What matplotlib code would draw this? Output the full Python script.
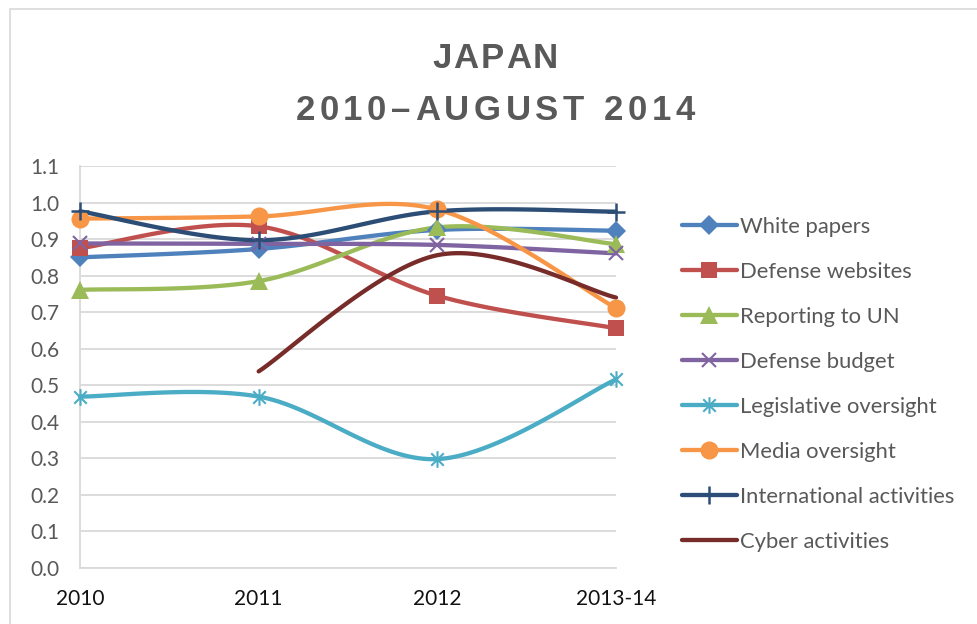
import matplotlib
matplotlib.use("Agg")
import matplotlib.pyplot as plt
from matplotlib.lines import Line2D
from matplotlib.path import Path
from matplotlib.patches import Rectangle
import numpy as np

#%%data
years = ["2010", "2011", "2012", "2013-14"]
white_papers = [0.85, 0.873, 0.925, 0.923]
defense_websites = [0.875, 0.935, 0.745, 0.656]
reporting_un = [0.761, 0.785, 0.932, 0.886]
defense_budget = [0.888, 0.887, 0.884, 0.861]
legislative = [0.469, 0.469, 0.298, 0.516]
media = [0.956, 0.962, 0.981, 0.711]
international = [0.976, 0.897, 0.976, 0.975]
cyber = [np.nan, 0.538, 0.856, 0.74]

labels = ["White papers", "Defense websites", "Reporting to UN", "Defense budget",
          "Legislative oversight", "Media oversight", "International activities",
          "Cyber activities"]

#asterisk marker like excel's "star" (vertical bar + X)
star = Path([(0, -1), (0, 1), (-0.75, -0.75), (0.75, 0.75), (-0.75, 0.75), (0.75, -0.75)],
            [Path.MOVETO, Path.LINETO, Path.MOVETO, Path.LINETO, Path.MOVETO, Path.LINETO])

styles = [
    dict(color="#4F81BD", marker="D", ms=10, mew=0),
    dict(color="#C0504D", marker="s", ms=11, mew=0),
    dict(color="#9BBB59", marker="^", ms=13, mew=0),
    dict(color="#8064A2", marker="x", ms=10, mew=1.5),
    dict(color="#4BACC6", marker=star, ms=12, mew=1.5),
    dict(color="#F79646", marker="o", ms=13, mew=0),
    dict(color="#2C4D75", marker="+", ms=13, mew=1.8),
    dict(color="#772C2A", marker=None, ms=0, mew=0),
]


#%%definitions
def smooth(x, y, n=40):
    """
        - bezier smoothing between points (excel style line), same curve through the points
    """
    x = np.asarray(x, float)
    y = np.asarray(y, float)
    ok = ~np.isnan(y)
    x, y = x[ok], y[ok]
    px = np.concatenate([[x[0]], x, [x[-1]]])
    py = np.concatenate([[y[0]], y, [y[-1]]])
    xs, ys = [], []
    t = np.linspace(0, 1, n)[:, None]
    for i in range(1, len(px) - 2):
        p0 = np.array([px[i], py[i]])
        p3 = np.array([px[i + 1], py[i + 1]])
        c1 = p0 + (np.array([px[i + 1], py[i + 1]]) - np.array([px[i - 1], py[i - 1]])) / 6
        c2 = p3 - (np.array([px[i + 2], py[i + 2]]) - np.array([px[i], py[i]])) / 6
        b = (1 - t)**3 * p0 + 3 * (1 - t)**2 * t * c1 + 3 * (1 - t) * t**2 * c2 + t**3 * p3
        xs.append(b[:, 0])
        ys.append(b[:, 1])
    return np.concatenate(xs), np.concatenate(ys)

def spaced_text(fig, xc, ybase, s, width, **kw):
    """
        - letter-spaced text centred at xc (pixels), stretched to `width` pixels
    """
    r = fig.canvas.get_renderer()
    ws = []
    for ch in s:
        t = fig.text(0, 0, ch if ch != " " else "n", **kw)
        ws.append(t.get_window_extent(r).width * (0.5 if ch == " " else 1))
        t.remove()
    gap = (width - sum(ws)) / (len(s) - 1)
    x = xc - width / 2
    H = fig.bbox.height
    W = fig.bbox.width
    for ch, w in zip(s, ws):
        if ch != " ":
            fig.text(x / W, 1 - ybase / H, ch, ha="left", va="baseline", **kw)
        x += w + gap


#%%main
def main():
    plt.rcParams["font.family"] = ["Lato", "DejaVu Sans"]
    fig = plt.figure(figsize=(9.77, 6.24), dpi=100)
    fig.patches.append(Rectangle((10/977, -0.1), 1.2, 0.1 + 615/624, transform=fig.transFigure,
                                 facecolor="none", edgecolor="#D9D9D9", lw=1.2))
    ax = fig.add_axes([80/977, 56/624, 536/977, 402/624])

    series = [white_papers, defense_websites, reporting_un, defense_budget,
              legislative, media, international, cyber]
    x = np.arange(len(years))
    handles = []
    for vals, lab, st in zip(series, labels, styles):
        sx, sy = smooth(x, vals)
        ax.plot(sx, sy, color=st["color"], lw=3.1, solid_capstyle="round", clip_on=False, zorder=3)
        if st["marker"] is not None:
            ax.plot(x, vals, ls="none", marker=st["marker"], ms=st["ms"], color=st["color"],
                    mew=st["mew"], clip_on=False, zorder=4)
        handles.append(Line2D([], [], color=st["color"], lw=3.1, marker=st["marker"], ms=st["ms"],
                              mew=st["mew"], solid_capstyle="round"))

    ax.set_xlim(0, 3)
    ax.set_ylim(0, 1.1)
    ax.set_yticks(np.arange(0, 1.11, 0.1))
    ax.set_yticklabels([f"{v:.1f}" for v in np.arange(0, 1.11, 0.1)])
    ax.set_xticks(x)
    ax.set_xticklabels(years)
    ax.tick_params(length=0)
    ax.tick_params(axis="y", labelsize=15, labelcolor="#595959", pad=15)
    ax.tick_params(axis="x", labelsize=15, labelcolor="#111111", pad=15)
    ax.grid(axis="y", color="#D9D9D9", lw=1.3)
    ax.set_axisbelow(True)
    for side in ["top", "right"]:
        ax.spines[side].set_visible(False)
    for side in ["left", "bottom"]:
        ax.spines[side].set_color("#D9D9D9")
        ax.spines[side].set_linewidth(1.3)

    tkw = dict(fontsize=25, fontweight="bold", color="#595959", family="Liberation Sans")
    spaced_text(fig, 495, 68, "JAPAN", 126, **tkw)
    spaced_text(fig, 495, 120, "2010–AUGUST 2014", 399, **tkw)

    fig.legend(handles=handles, labels=labels, loc="upper left",
               bbox_to_anchor=(682/977, 1 - 217/624), frameon=False, fontsize=15.8,
               labelcolor="#595959", handlelength=2.5, handletextpad=0.15,
               labelspacing=1.14, borderaxespad=0, borderpad=0)

    fig.savefig("out.png", dpi=100)

if __name__ == "__main__":
    main()
